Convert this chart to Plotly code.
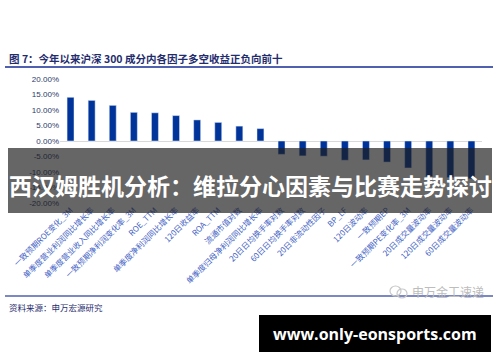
import plotly.graph_objects as go

categories = [
    "一致预期ROE变化_3M", "单季度营业利润同比增长率", "单季度营业收入同比增长率",
    "一致预期净利润变化率_3M", "ROE_TTM", "单季度净利润同比增长率", "120日收益率",
    "ROA_TTM", "流通市值对数", "单季度归母净利润同比增长率", "20日日均换手率对数",
    "60日日均换手率对数", "20日非流动性因子", "BP_LF", "120日波动率", "一致预期EP",
    "一致预期PE变化率_3M", "20日成交量波动率", "120日成交量波动率", "60日成交量波动率",
]
returns_pct = [14.1, 13.1, 11.5, 9.25, 9.1, 8.2, 6.8, 6.0, 4.8, 4.0,
               -4.3, -4.8, -4.9, -6.2, -6.1, -6.8, -8.7, -11.5, -11.8, -12.2]
y_ticks = [20, 15, 10, 5, 0, -5, -10, -15, -20]
y_tick_labels = [f"{v:.2f}%" for v in y_ticks]

title_text = "图 7：今年以来沪深 300 成分内各因子多空收益正负向前十"
source_text = "资料来源：申万宏源研究"
watermark_text = "申万金工速递"
banner_text = "西汉姆胜机分析：维拉分心因素与比赛走势探讨"
site_text = "www.only-eonsports.com"

W, H = 500, 362
L, R, T, B = 60, 482, 79, 203

def px(x):
    return (x - L) / (R - L)

def py(y):
    return (B - y) / (B - T)

fig = go.Figure(go.Bar(
    x=categories, y=returns_pct, marker_color="#00349a", width=0.33,
))

navy = "#1f2d6e"
fig.update_layout(
    width=W, height=H,
    margin=dict(l=L, r=W - R, t=T, b=H - B, autoexpand=False),
    paper_bgcolor="white", plot_bgcolor="white",
    showlegend=False,
    font=dict(family="Noto Sans CJK SC, Liberation Sans, sans-serif"),
)
fig.update_yaxes(
    range=[-20, 20], tickvals=y_ticks, ticktext=y_tick_labels, automargin=False,
    showgrid=False, zeroline=True, zerolinecolor="#d9d9d9", zerolinewidth=1,
    showline=False, ticks="", tickfont=dict(size=8, color="#2b3a6b",
    family="Liberation Sans, Arial, sans-serif"),
)
fig.update_xaxes(
    tickangle=-45, showgrid=False, showline=False, ticks="", automargin=False,
    tickfont=dict(size=8, color="#3f62c4"),
)

shapes = []
shapes.append(dict(type="line", xref="paper", yref="paper",
                   x0=px(5), x1=px(493), y0=py(67), y1=py(67),
                   line=dict(color="#5060b0", width=2)))
shapes.append(dict(type="line", xref="paper", yref="paper",
                   x0=px(5), x1=px(493), y0=py(296), y1=py(296),
                   line=dict(color="#5060b0", width=1.5)))
shapes.append(dict(type="rect", xref="paper", yref="paper",
                   x0=px(8), x1=px(492), y0=py(148), y1=py(213),
                   fillcolor="rgba(30,30,30,0.68)", line=dict(width=0), layer="above"))
shapes.append(dict(type="rect", xref="paper", yref="paper",
                   x0=px(259), x1=px(491), y0=py(315), y1=py(352),
                   fillcolor="black", line=dict(width=0), layer="above"))
shapes.append(dict(type="circle", xref="paper", yref="paper",
                   x0=px(390), x1=px(401), y0=py(286), y1=py(296),
                   line=dict(color="#c8c8c8", width=1.2), layer="above"))
shapes.append(dict(type="circle", xref="paper", yref="paper",
                   x0=px(397), x1=px(407), y0=py(289), y1=py(298),
                   line=dict(color="#c8c8c8", width=1.2), layer="above"))
fig.update_layout(shapes=shapes)

annotations = [
    dict(text="<b>" + title_text + "</b>", x=px(7), y=py(59), xanchor="left", yanchor="middle",
         font=dict(size=10.5, color=navy, family="Noto Sans CJK SC"), showarrow=False),
    dict(text=source_text, x=px(7), y=py(307), xanchor="left", yanchor="middle",
         font=dict(size=8.5, color=navy), showarrow=False),
    dict(text=watermark_text, x=px(410), y=py(291), xanchor="left", yanchor="middle",
         font=dict(size=12, color="#bdbdbd"), showarrow=False),
    dict(text="<b>" + banner_text + "</b>", x=px(250), y=py(185), xanchor="center",
         yanchor="middle", font=dict(size=23, color="white", family="Noto Sans CJK SC"),
         showarrow=False),
    dict(text="<b>" + site_text + "</b>", x=px(375), y=py(334), xanchor="center",
         yanchor="middle", font=dict(size=16, color="white", family="Open Sans, Noto Sans"),
         showarrow=False),
]
for a in annotations:
    a.update(xref="paper", yref="paper")
fig.update_layout(annotations=annotations)

fig.write_html("out.html", config={"displayModeBar": False},
               post_script="document.body.style.margin='0';document.body.style.overflow='hidden';")
